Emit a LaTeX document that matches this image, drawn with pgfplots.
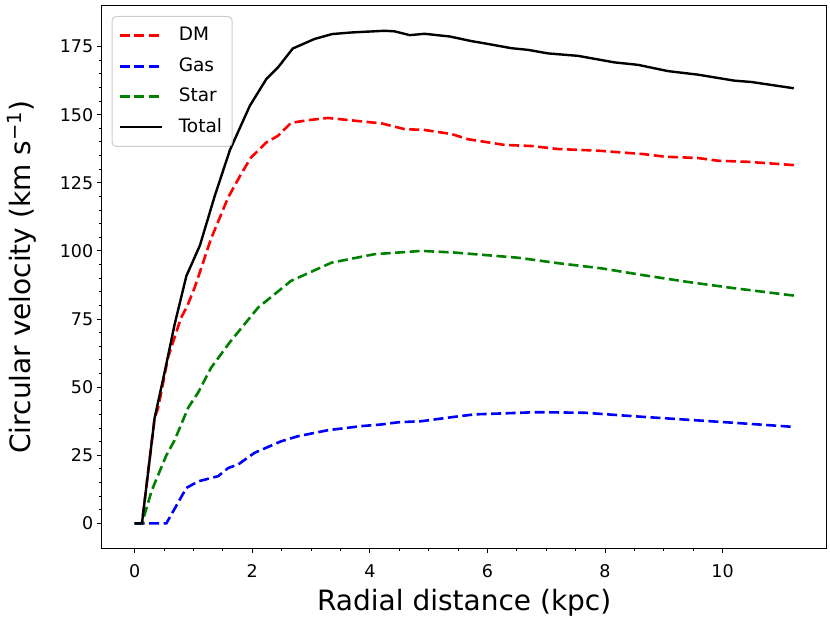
\documentclass[border=0pt]{standalone}
\usepackage{fontspec}
\setmainfont{DejaVu Sans}
\usepackage{pgfplots}
\pgfplotsset{compat=1.18}
\definecolor{mplgreen}{rgb}{0,0.5,0}
\begin{document}
\begin{tikzpicture}
\useasboundingbox (0,0) rectangle (830bp,620bp);
\begin{axis}[
  at={(101.7bp,72bp)}, anchor=south west,
  width=725bp, height=542bp, scale only axis,
  xmin=-0.56, xmax=11.77, ymin=-9.05, ymax=189.9,
  xtick={0,2,4,6,8,10}, ytick={0,25,50,75,100,125,150,175},
  minor x tick num=3, minor y tick num=4,
  tick align=outside, tick pos=left,
  major tick length=5bp, minor tick length=3bp,
  every tick/.style={black, line width=0.9bp},
  axis line style={line width=1bp},
  /pgf/number format/assume math mode=true,
  ticklabel style={font=\fontsize{17.5bp}{20bp}\selectfont},
  xticklabel style={anchor=base, yshift=-24bp},
  yticklabel style={anchor=east},
  xlabel={Radial distance (kpc)},
  ylabel={Circular velocity (km s\textsuperscript{−1})},
  label style={font=\fontsize{28bp}{32bp}\selectfont},
  xlabel style={at={(axis description cs:0.5,-0.1015)}, anchor=center},
  ylabel style={at={(axis description cs:-0.1099,0.5)}, anchor=center, rotate=0},
  legend cell align=left,
  legend style={at={(axis description cs:0,1)}, xshift=10bp, yshift=-10bp,
    anchor=north west, draw=black!20, line width=1bp, rounded corners=4bp,
    fill=white, font=\fontsize{18.5bp}{22bp}\selectfont,
    inner xsep=6bp, inner ysep=7bp, row sep=6bp, column sep=12bp,
    nodes={inner xsep=4bp, inner ysep=4bp, text height=13.5bp, text depth=3bp}},
  legend image code/.code={\draw[#1] (0bp,0bp) -- (42bp,0bp);},
  dashstyle/.style={dash pattern=on 10bp off 4.5bp, line width=2.6bp},
]
\addplot[red, dashstyle] coordinates {
(0,0) (0.125,0) (0.23,19) (0.34,38.7) (0.40,42.4) (0.57,61) (0.79,75.5) (0.89,79.5)
(1.02,86.5) (1.13,93.5) (1.30,104.5) (1.45,112.3) (1.59,119.6) (1.81,128.2) (1.98,134.3)
(2.24,139.8) (2.44,142.3) (2.66,147) (2.95,148) (3.29,148.8) (3.74,147.8) (4.2,146.8)
(4.59,144.7) (4.93,144.4) (5.39,142.9) (5.67,141) (6.29,138.9) (6.75,138.5) (7.2,137.4)
(7.88,136.8) (8.67,135.5) (9.01,134.6) (9.58,134.1) (9.92,133.1) (10.43,132.7) (11.21,131.5)
};
\addlegendentry{DM}
\addplot[blue, dashstyle] coordinates {
(0,0) (0.54,0) (0.88,13) (1.08,15.4) (1.42,17.3) (1.59,20.3) (1.76,21.6) (2.04,25.9)
(2.49,30.1) (2.78,32) (3.29,34.2) (3.86,35.7) (4.2,36.3) (4.48,37.1) (4.88,37.5)
(5.44,39.1) (5.78,40) (6.58,40.6) (6.8,40.8) (7.65,40.6) (8.5,39.3) (9.35,38.1)
(10.2,36.9) (11.21,35.4)
};
\addlegendentry{Gas}
\addplot[mplgreen, dashstyle] coordinates {
(0,0) (0.125,0) (0.29,12) (0.54,25) (0.68,30.5) (0.91,42.4) (1.08,48) (1.30,57.1)
(1.62,66.5) (2.10,79.2) (2.66,89) (3.35,95.7) (4.08,98.8) (4.88,100) (5.44,99.4)
(6.52,97.5) (7.2,95.5) (7.94,93.6) (8.62,91.2) (9.41,88.6) (10.2,86.3) (11.21,83.6)
};
\addlegendentry{Star}
\addplot[black, line width=2.4bp] coordinates {
(0,0) (0.125,0) (0.34,38.7) (0.51,55.5) (0.68,73) (0.88,90.8) (1.11,102) (1.36,120)
(1.62,137) (1.96,153.3) (2.24,163.1) (2.44,167.4) (2.69,174.3) (3.06,177.8) (3.36,179.6)
(3.7,180.2) (4.25,180.8) (4.42,180.6) (4.68,179.2) (4.93,179.7) (5.36,178.7) (5.73,177)
(5.95,176.2) (6.41,174.4) (6.69,173.8) (7.03,172.5) (7.54,171.6) (8.16,169.2) (8.56,168.3)
(9.07,166) (9.58,164.7) (9.86,163.7) (10.2,162.5) (10.49,162) (11.21,159.7)
};
\addlegendentry{Total}
\end{axis}
\end{tikzpicture}
\end{document}
